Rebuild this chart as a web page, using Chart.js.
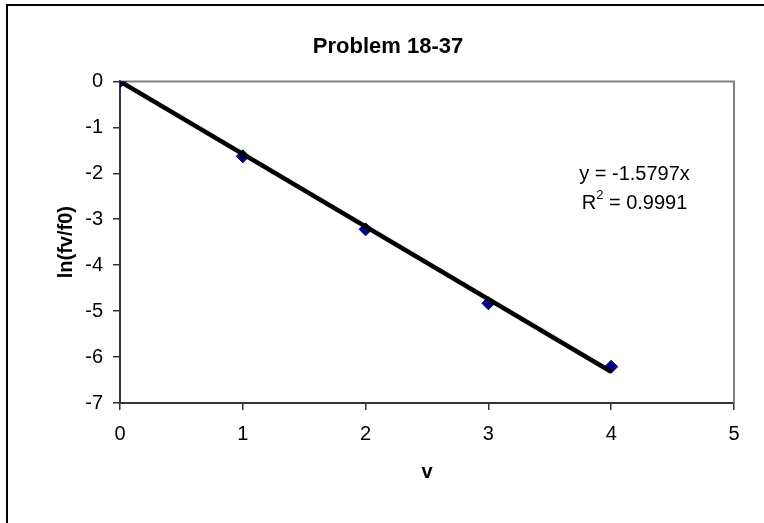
<!DOCTYPE html>
<html>
<head>
<meta charset="utf-8">
<script src="https://cdn.jsdelivr.net/npm/chart.js@4.4.1/dist/chart.umd.min.js"></script>
<style>
    html, body { margin: 0; padding: 0; background: #fff; overflow: hidden; }
    #wrap { position: relative; width: 764px; height: 523px; }
    #frame { position: absolute; left: 6px; top: 4px; width: 900px; height: 700px;
             border: 2px solid #000; pointer-events: none; }
</style>
</head>
<body>
<div id="wrap">
    <canvas id="chart" width="764" height="523"></canvas>
    <div id="frame"></div>
</div>
<script>
// data
const vValues = [0, 1, 2, 3, 4];
const lnRatio = [0, -1.63, -3.22, -4.83, -6.21];
const trendX = [0, 4];
const trendY = [0, -6.3188];
const equationLines = ['y = -1.5797x', 'R', ' = 0.9991'];
const xTicks = [0, 1, 2, 3, 4, 5];
const yTicks = [0, -1, -2, -3, -4, -5, -6, -7];

const FONT = "Arial, 'Liberation Sans', sans-serif";

const frameBox = {
    id: 'frameBox',
    beforeDatasetsDraw(chart) {
        const { ctx, chartArea: a } = chart;
        ctx.save();
        ctx.strokeStyle = '#808080';
        ctx.lineWidth = 2;
        ctx.beginPath();
        ctx.moveTo(a.left, a.top);
        ctx.lineTo(a.right, a.top);
        ctx.lineTo(a.right, a.bottom);
        ctx.stroke();
        ctx.restore();
    }
};

const equationLabel = {
    id: 'equationLabel',
    afterDraw(chart) {
        const { ctx, scales } = chart;
        const cx = scales.x.getPixelForValue(4.19);
        const y1 = scales.y.getPixelForValue(-2.02);
        const y2 = scales.y.getPixelForValue(-2.65);
        ctx.save();
        ctx.fillStyle = '#000';
        ctx.textBaseline = 'middle';
        ctx.textAlign = 'center';
        ctx.font = '20px ' + FONT;
        ctx.fillText(equationLines[0], cx, y1);
        // second line: R + superscript 2 + rest
        ctx.textAlign = 'left';
        const wR = ctx.measureText(equationLines[1]).width;
        const wRest = ctx.measureText(equationLines[2]).width;
        ctx.font = '13px ' + FONT;
        const wSup = ctx.measureText('2').width;
        let x = cx - (wR + wSup + wRest) / 2;
        ctx.font = '20px ' + FONT;
        ctx.fillText(equationLines[1], x, y2);
        x += wR;
        ctx.font = '13px ' + FONT;
        ctx.fillText('2', x, y2 - 8);
        x += wSup;
        ctx.font = '20px ' + FONT;
        ctx.fillText(equationLines[2], x, y2);
        ctx.restore();
    }
};

new Chart(document.getElementById('chart'), {
    type: 'scatter',
    data: {
        datasets: [{
            label: 'Trendline',
            type: 'line',
            data: trendX.map((x, i) => ({ x: x, y: trendY[i] })),
            borderColor: '#000',
            borderWidth: 4.5,
            pointRadius: 0,
            fill: false,
            order: 0
        }, {
            label: 'ln(fv/f0)',
            data: vValues.map((v, i) => ({ x: v, y: lnRatio[i] })),
            pointStyle: 'rectRot',
            pointRadius: 6.5,
            backgroundColor: '#000080',
            borderColor: '#000080',
            order: 1
        }]
    },
    options: {
        responsive: false,
        animation: false,
        layout: { padding: { top: 0, right: 30, bottom: 0, left: 42 } },
        plugins: {
            legend: { display: false },
            tooltip: { enabled: false },
            title: {
                display: true,
                text: 'Problem 18-37',
                color: '#000',
                font: { family: FONT, size: 22, weight: 'bold' },
                padding: { top: 34, bottom: 21 }
            }
        },
        scales: {
            x: {
                type: 'linear',
                min: 0,
                max: 5,
                afterFit(scale) { scale.height = 120; },
                afterBuildTicks(scale) { scale.ticks = xTicks.map(v => ({ value: v })); },
                border: { display: true, color: '#333', width: 2 },
                grid: { display: true, drawOnChartArea: false, drawTicks: true, tickLength: 7, color: '#333', lineWidth: 1.5 },
                ticks: { color: '#000', padding: 12, font: { family: FONT, size: 20 } },
                title: {
                    display: true,
                    text: 'v',
                    color: '#000',
                    font: { family: FONT, size: 20, weight: 'bold' },
                    padding: { top: 39, bottom: 39 }
                }
            },
            y: {
                type: 'linear',
                min: -7,
                max: 0,
                afterFit(scale) { scale.width = 78; },
                afterBuildTicks(scale) { scale.ticks = yTicks.map(v => ({ value: v })); },
                border: { display: true, color: '#333', width: 2 },
                grid: { display: true, drawOnChartArea: false, drawTicks: true, tickLength: 7, color: '#333', lineWidth: 1.5 },
                ticks: { color: '#000', padding: 10, font: { family: FONT, size: 20 } },
                title: {
                    display: true,
                    text: 'ln(fv/f0)',
                    color: '#000',
                    font: { family: FONT, size: 20, weight: 'bold' },
                    padding: { top: 12, bottom: 12 }
                }
            }
        }
    },
    plugins: [frameBox, equationLabel]
});
</script>
</body>
</html>
